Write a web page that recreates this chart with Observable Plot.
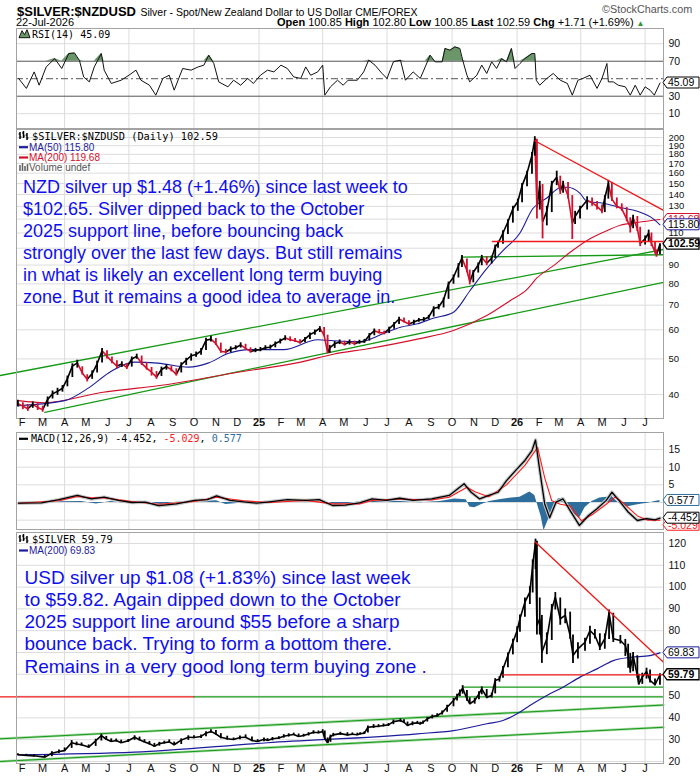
<!DOCTYPE html>
<html><head><meta charset="utf-8">
<script src="https://cdn.jsdelivr.net/npm/d3@7"></script>
<script src="https://cdn.jsdelivr.net/npm/@observablehq/plot@0.6"></script>
<style>
body{margin:0;background:#fff;}
#wrap{position:relative;width:700px;height:780px;overflow:hidden;font-family:"Liberation Sans",Arial,sans-serif;color:#000;}
.abs{position:absolute;white-space:nowrap;}
.panel{position:absolute;left:0;}
.panel svg{overflow:visible;}
</style></head><body>
<div id="wrap">
  <div class="abs" style="left:17px;top:3px;line-height:15px;"><b style="font-size:13px">$SILVER:$NZDUSD</b> <span style="font-size:10.5px">Silver - Spot/New Zealand Dollar to US Dollar CME/FOREX</span></div>
  <div class="abs" style="left:602px;top:2px;line-height:15px;font-size:10.8px;color:#555">©StockCharts.com</div>
  <div class="abs" style="left:16px;top:15px;line-height:14px;font-size:11px">22-Jul-2026</div>
  <div class="abs" style="left:277px;top:15px;line-height:14px;font-size:11px"><b>Open</b> 100.85 <b>High</b> 102.80 <b>Low</b> 100.85 <b>Last</b> 102.59 <b>Chg</b> +1.71 (+1.69%) <span style="color:#2a9a2a;font-size:8px">▲</span></div>
  <div id="rsi" class="panel" style="top:27px"></div>
  <div id="main" class="panel" style="top:128px"></div>
  <div id="macd" class="panel" style="top:431px"></div>
  <div id="usd" class="panel" style="top:530px"></div>
</div>
<script>
// ---------------- DATA ----------------
const nzdDates = [
"2024-01-26","2024-02-02","2024-02-09","2024-02-16","2024-02-23","2024-03-01","2024-03-08","2024-03-15","2024-03-22","2024-03-29",
"2024-04-05","2024-04-12","2024-04-19","2024-04-26","2024-05-03","2024-05-10","2024-05-17","2024-05-24","2024-05-31","2024-06-07",
"2024-06-14","2024-06-21","2024-06-28","2024-07-05","2024-07-12","2024-07-19","2024-07-26","2024-08-02","2024-08-09","2024-08-16",
"2024-08-23","2024-08-30","2024-09-06","2024-09-13","2024-09-20","2024-09-27","2024-10-04","2024-10-11","2024-10-18","2024-10-25",
"2024-11-01","2024-11-08","2024-11-15","2024-11-22","2024-11-29","2024-12-06","2024-12-13","2024-12-20","2024-12-27",
"2025-01-03","2025-01-10","2025-01-17","2025-01-24","2025-01-31","2025-02-07","2025-02-14","2025-02-21","2025-02-28","2025-03-07",
"2025-03-14","2025-03-21","2025-03-28","2025-04-03","2025-04-08","2025-04-11","2025-04-18","2025-04-25","2025-05-02","2025-05-09",
"2025-05-16","2025-05-23","2025-05-30","2025-06-06","2025-06-13","2025-06-20","2025-06-27","2025-07-04","2025-07-11","2025-07-18",
"2025-07-25","2025-08-01","2025-08-08","2025-08-15","2025-08-22","2025-08-29","2025-09-05","2025-09-12","2025-09-19","2025-09-26",
"2025-10-03","2025-10-10","2025-10-15","2025-10-22","2025-10-26","2025-10-31","2025-11-07","2025-11-12","2025-11-19","2025-11-26",
"2025-12-01","2025-12-05","2025-12-12","2025-12-19","2025-12-26","2026-01-02","2026-01-08","2026-01-15","2026-01-22","2026-01-26",
"2026-01-29","2026-02-02","2026-02-06","2026-02-12","2026-02-19","2026-02-26","2026-03-03","2026-03-07","2026-03-14","2026-03-20",
"2026-03-24","2026-03-31","2026-04-10","2026-04-17","2026-04-24","2026-05-01","2026-05-05","2026-05-10","2026-05-15","2026-05-22",
"2026-05-29","2026-06-05","2026-06-10","2026-06-14","2026-06-20","2026-06-24","2026-07-01","2026-07-06","2026-07-10","2026-07-15",
"2026-07-17","2026-07-22"];
const nzdClose = [
37.8,37.2,36.6,37.6,36.9,36.4,38.8,40.2,40.8,41.6,
44.2,47.8,48.8,45.8,44.0,45.6,48.5,52.6,50.8,49.2,
47.8,48.4,47.4,50.0,50.8,48.6,47.2,46.0,44.6,46.8,
47.6,46.8,45.4,48.2,49.6,51.0,51.4,52.6,56.2,56.6,
55.0,52.4,52.2,53.2,53.6,54.6,53.4,52.4,52.8,
53.0,53.6,53.8,55.0,56.0,57.0,56.4,56.0,55.4,56.6,
58.2,59.2,60.6,58.0,52.0,53.6,55.0,55.6,54.8,55.6,
55.0,55.6,55.8,58.0,59.6,59.0,58.8,60.4,62.2,64.2,
63.2,62.2,63.0,63.8,64.0,65.0,68.6,69.2,72.4,80.0,
83.4,89.6,94.0,87.0,81.0,86.0,90.0,94.4,91.0,94.0,
101.0,103.0,110.0,118.0,128.0,134.0,148.0,160.0,179.0,198.0,
129.0,148.0,118.0,126.0,150.0,156.0,143.0,150.0,139.0,117.0,
122.0,128.0,135.0,133.0,130.0,126.0,137.0,150.0,136.0,130.0,
128.0,120.0,114.0,121.0,113.0,103.0,106.0,110.0,103.0,97.6,
96.0,102.59];
const nzdHigh = [
38.6,38.0,37.6,38.2,37.8,37.2,39.4,40.9,41.6,42.3,
44.9,48.5,49.6,47.6,45.3,46.4,49.3,53.4,52.6,50.6,
49.4,49.1,48.6,50.6,51.5,50.9,48.9,47.4,46.2,47.5,
48.2,47.8,47.0,48.8,50.2,51.6,52.2,53.4,56.9,57.6,
56.8,55.2,53.1,53.9,54.3,55.3,54.8,53.6,53.4,
53.7,54.3,54.5,55.6,56.6,57.8,57.4,56.8,56.4,57.2,
58.8,59.9,61.2,60.9,58.0,54.4,55.7,56.3,55.9,56.3,
55.9,56.2,56.5,58.6,60.3,60.1,59.5,61.0,62.8,64.9,
64.6,63.5,63.7,64.4,64.8,65.7,69.3,70.3,73.2,80.9,
84.6,90.8,95.5,93.5,87.2,87.0,91.2,95.6,94.8,95.2,
102,104.5,111.5,119.5,130,136,150,162,182,201,
198,152,149,130,152,162,157,152,151,139,
126,130,138,137,134,131,139,153,151,137,
132,129,121,123,122,114,108,112,110,104,
99,102.8];
const nzdLow = [
37.0,36.4,36.0,36.7,36.2,35.8,37.0,38.9,39.8,40.6,
42.0,44.5,47.2,45.2,43.3,44.0,45.8,48.7,50.0,48.5,
47.0,47.4,46.8,47.5,49.9,48.0,46.6,44.9,44.0,44.8,
46.6,46.1,44.9,45.8,48.0,49.3,50.5,51.2,52.7,55.6,
54.4,51.8,51.5,52.0,52.9,53.5,52.8,51.8,52.0,
52.3,52.7,53.1,53.6,54.9,56.0,55.7,55.4,54.8,55.3,
56.5,58.0,59.0,57.4,51.6,51.8,53.4,54.7,54.2,54.5,
54.3,54.8,55.1,55.9,57.8,58.4,58.1,58.6,60.2,62.0,
62.6,61.5,61.9,62.9,63.2,63.9,65.0,68.0,68.8,72.6,
79.8,83.0,88.6,85.8,79.5,80.5,85.6,89.6,89.6,90.6,
93.8,100,102.5,109,117,126,133,147,159,178,
120,127,106,115,125,148,140,141,136,105.6,
116,120,127,130,127,124,125,136,134,128,
126,118,110,113,111,101,102,104,101,96.5,
94.5,96.0];

const ma50Dates = ["2024-01-27","2024-04-01","2024-05-05","2024-06-06","2024-07-09","2024-08-11","2024-09-23","2024-10-21","2024-11-18","2024-12-19",
"2025-02-05","2025-03-25","2025-04-16","2025-05-24","2025-06-26","2025-07-20","2025-08-13","2025-09-04","2025-10-03","2025-10-26",
"2025-11-19","2025-12-12","2026-01-05","2026-01-23","2026-02-12","2026-03-03","2026-03-13","2026-03-31","2026-04-10","2026-05-03",
"2026-05-27","2026-06-20","2026-07-13","2026-07-22"];
const ma50Values = [37.3,38.5,41.7,46.3,49.0,48.7,47.5,48.7,51.7,53.0,
53.0,56.4,56.0,55.7,58.6,61.0,62.3,64.5,67.0,76.5,
88.0,98.5,110.0,128.0,137.0,146.0,146.5,141.0,134.0,132.5,
129.0,126.0,120.0,115.80];

const ma200Dates = ["2024-01-27","2024-03-04","2024-05-23","2024-08-25","2024-11-26","2025-03-01","2025-04-16","2025-06-04","2025-08-13","2025-10-03",
"2025-11-19","2025-12-22","2026-01-15","2026-01-29","2026-02-21","2026-03-17","2026-04-10","2026-05-03","2026-05-27","2026-06-20","2026-07-22"];
const ma200Values = [38.5,38.0,40.5,42.6,45.8,49.0,51.5,53.3,56.6,59.7,
65.6,72.0,77.3,83.0,89.5,97.5,105.0,110.5,115.5,117.5,119.68];

const rsiDates = ["2024-01-27","2024-02-07","2024-02-18","2024-02-25","2024-03-06","2024-03-18","2024-03-28","2024-04-07","2024-04-15","2024-04-22",
"2024-04-28","2024-05-06","2024-05-13","2024-05-23","2024-05-27","2024-06-06","2024-06-20","2024-07-01","2024-07-11","2024-07-18",
"2024-07-30","2024-08-08","2024-08-18","2024-08-27","2024-09-03","2024-09-15","2024-09-27","2024-10-07","2024-10-15","2024-10-22",
"2024-10-29","2024-11-05","2024-11-18","2024-11-26","2024-12-06","2024-12-16","2024-12-24","2025-01-03","2025-01-13","2025-01-22",
"2025-02-01","2025-02-10","2025-02-19","2025-03-01","2025-03-08","2025-03-15","2025-03-25","2025-04-01","2025-04-04","2025-04-12",
"2025-04-22","2025-04-30","2025-05-07","2025-05-20","2025-05-29","2025-06-05","2025-06-14","2025-06-24","2025-07-01","2025-07-10",
"2025-07-20","2025-07-27","2025-08-07","2025-08-17","2025-08-24","2025-08-31","2025-09-07","2025-09-17","2025-09-21","2025-09-28",
"2025-10-05","2025-10-12","2025-10-16","2025-10-22","2025-10-26","2025-11-05","2025-11-12","2025-11-19","2025-11-26","2025-12-03",
"2025-12-10","2025-12-17","2025-12-24","2025-12-29","2026-01-05","2026-01-12","2026-01-22","2026-01-26","2026-01-28","2026-02-02",
"2026-02-12","2026-02-21","2026-03-03","2026-03-13","2026-03-20","2026-03-28","2026-04-04","2026-04-14","2026-04-24","2026-05-01",
"2026-05-08","2026-05-10","2026-05-17","2026-05-24","2026-06-03","2026-06-10","2026-06-17","2026-06-24","2026-07-01","2026-07-08",
"2026-07-14","2026-07-22"];
const rsiValues = [50.3,38.9,57.8,42.6,63.5,73.0,61.7,78.8,79.5,71.0,
52.0,46.4,63.5,78.8,59.8,44.6,48.3,54.0,59.8,48.3,
42.6,31.2,50.3,54.0,36.9,61.7,59.8,63.5,65.5,76.9,
67.4,46.4,40.7,48.3,42.6,50.3,44.6,54.0,59.8,57.8,
65.5,61.7,52.1,50.3,63.5,54.0,57.8,65.5,31.2,40.7,
48.3,42.6,48.3,48.3,57.8,71.2,65.5,56.0,50.3,69.3,
71.2,48.3,57.8,50.3,63.5,76.9,69.3,69.3,84.6,82.6,
86.4,84.6,71.2,54.0,46.4,54.0,65.5,56.0,69.3,61.7,
73.0,69.3,84.6,61.7,67.4,73.0,78.8,78.8,48.3,42.6,
50.3,56.0,48.3,44.6,31.2,48.3,50.3,54.0,38.9,50.3,
67.4,46.4,46.4,42.6,40.7,31.2,42.6,31.2,40.7,36.9,
31.2,45.09];

const macdDates = ["2024-01-27","2024-02-28","2024-03-24","2024-04-19","2024-05-09","2024-05-27","2024-06-16","2024-07-05","2024-07-24","2024-08-12",
"2024-09-06","2024-10-02","2024-10-20","2024-11-02","2024-11-21","2024-12-10","2024-12-29","2025-01-16","2025-02-10","2025-03-08",
"2025-03-27","2025-04-15","2025-05-03","2025-05-23","2025-06-10","2025-06-30","2025-07-19","2025-08-07","2025-09-02","2025-09-27",
"2025-10-18","2025-10-28","2025-11-09","2025-11-22","2025-12-05","2025-12-17","2025-12-30","2026-01-12","2026-01-22","2026-01-27",
"2026-02-02","2026-02-09","2026-02-16","2026-02-25","2026-03-07","2026-03-17","2026-03-30","2026-04-12","2026-04-24","2026-05-07",
"2026-05-15","2026-05-25","2026-06-07","2026-06-20","2026-07-03","2026-07-15","2026-07-22"];
const macdValues = [-0.2,-0.1,0.8,2.0,1.0,1.5,0.6,0.0,0.1,-0.9,
-0.4,0.6,0.8,1.9,0.6,0.2,-0.2,0.2,0.8,0.6,
0.8,-0.85,-0.75,-0.1,1.0,0.6,1.2,0.6,1.0,2.0,
5.3,2.9,1.0,2.0,2.9,6.2,9.1,11.9,14.7,17.7,
9.1,-0.4,-4.3,0.1,1.0,-2.3,-6.5,-3.7,-1.8,0.6,
2.9,0.6,-2.7,-5.1,-4.6,-4.9,-4.452];

const signalDates = ["2024-01-27","2024-03-24","2024-04-19","2024-05-09","2024-05-27","2024-07-05","2024-08-12","2024-10-02","2024-11-02","2024-12-10",
"2025-01-16","2025-03-08","2025-04-15","2025-05-23","2025-06-10","2025-07-19","2025-09-02","2025-09-27","2025-10-22","2025-11-03",
"2025-11-22","2025-12-17","2026-01-12","2026-01-30","2026-02-09","2026-02-19","2026-03-03","2026-03-17","2026-04-02","2026-04-17",
"2026-05-07","2026-05-20","2026-06-01","2026-06-20","2026-07-05","2026-07-22"];
const signalValues = [-0.2,0.5,1.7,1.3,1.3,0.3,-0.5,0.3,1.5,0.5,
0.0,0.6,-0.4,-0.4,0.6,1.0,0.7,1.5,4.3,3.0,
1.6,5.0,10.5,15.6,7.0,0.5,-0.5,-1.0,-5.2,-3.5,
-0.5,1.6,-0.3,-3.8,-5.0,-5.029];

const histDates = ["2024-01-27","2024-03-27","2024-04-25","2024-05-16","2024-06-06","2024-06-28","2024-07-26","2024-08-16","2024-09-06","2024-10-11",
"2024-11-02","2024-11-15","2024-12-06","2025-01-17","2025-03-01","2025-03-29","2025-04-19","2025-05-10","2025-05-31","2025-06-21",
"2025-07-20","2025-08-17","2025-09-14","2025-10-05","2025-10-21","2025-10-26","2025-11-02","2025-11-12","2025-11-23","2025-12-07",
"2025-12-21","2026-01-05","2026-01-19","2026-01-26","2026-02-04","2026-02-08","2026-02-14","2026-02-21","2026-02-28","2026-03-07",
"2026-03-14","2026-03-22","2026-03-30","2026-04-07","2026-04-17","2026-04-28","2026-05-08","2026-05-15","2026-05-21","2026-05-30",
"2026-06-07","2026-06-17","2026-06-27","2026-07-05","2026-07-15","2026-07-22"];
const histValues = [0,0.2,0.3,-0.4,0.3,-0.3,-0.1,-0.6,0.1,0.3,
0.5,-0.6,-0.2,0.2,0,0.3,-0.5,-0.3,0.5,0.3,
0.3,-0.1,0.3,1.0,0.8,-1.3,-1.5,-0.6,0.3,0.8,
1.2,1.5,3.0,2.0,-4.0,-8.0,-5.0,-1.5,1.0,1.3,
-1.2,-3.2,-4.5,-1.5,0.3,1.3,1.5,1.8,0.5,-1.0,
-1.2,-0.8,-0.4,-0.2,0.3,0.577];

const usdDates = [
"2024-01-26","2024-02-07","2024-02-18","2024-03-04","2024-03-14","2024-03-24","2024-04-01","2024-04-11","2024-04-18","2024-04-25",
"2024-05-05","2024-05-15","2024-05-23","2024-05-30","2024-06-06","2024-06-13","2024-06-20","2024-06-30","2024-07-09","2024-07-16",
"2024-07-23","2024-07-30","2024-08-06","2024-08-13","2024-08-20","2024-08-27","2024-09-03","2024-09-13","2024-09-23","2024-10-01",
"2024-10-11","2024-10-18","2024-10-25","2024-11-01","2024-11-08","2024-11-17","2024-11-26","2024-12-05","2024-12-13","2024-12-22",
"2024-12-30","2025-01-08","2025-01-13","2025-01-20","2025-01-29","2025-02-05","2025-02-12","2025-02-19","2025-02-26","2025-03-05",
"2025-03-12","2025-03-19","2025-03-26","2025-04-01","2025-04-04","2025-04-08","2025-04-12","2025-04-16","2025-04-26","2025-05-06",
"2025-05-13","2025-05-20","2025-05-24","2025-05-30","2025-06-04","2025-06-12","2025-06-19","2025-06-26","2025-07-03","2025-07-10",
"2025-07-20","2025-07-25","2025-07-30","2025-08-06","2025-08-13","2025-08-17","2025-08-21","2025-08-27","2025-09-03","2025-09-10",
"2025-09-17","2025-09-24","2025-10-03","2025-10-08","2025-10-12","2025-10-16","2025-10-22","2025-10-26","2025-11-02","2025-11-08",
"2025-11-12","2025-11-19","2025-11-26","2025-12-01","2025-12-07","2025-12-12","2025-12-19","2025-12-26","2026-01-01","2026-01-05",
"2026-01-12","2026-01-19","2026-01-23","2026-01-27","2026-01-29","2026-02-02","2026-02-05","2026-02-12","2026-02-19","2026-02-24",
"2026-03-03","2026-03-10","2026-03-17","2026-03-21","2026-03-28","2026-04-07","2026-04-14","2026-04-21","2026-04-28","2026-05-05",
"2026-05-11","2026-05-17","2026-05-27","2026-06-03","2026-06-07","2026-06-10","2026-06-14","2026-06-20","2026-06-22","2026-06-27",
"2026-07-03","2026-07-08","2026-07-15","2026-07-22"];
const usdClose = [
23.1,22.8,22.6,22.0,23.8,24.6,25.0,28.6,28.0,27.7,
26.6,29.5,31.9,30.2,29.2,29.6,28.6,29.5,31.1,30.0,
28.9,28.2,27.0,28.2,28.6,29.0,27.7,29.8,31.1,31.0,
31.5,33.0,33.8,32.6,31.1,30.4,30.1,31.0,31.1,29.6,
29.2,30.2,29.6,30.4,30.8,31.6,32.0,32.4,31.5,31.9,
32.6,33.4,33.2,33.8,30.5,28.6,31.5,32.2,32.8,32.2,
32.5,32.3,32.7,33.0,35.7,36.0,36.2,36.5,36.8,38.3,
38.8,38.0,36.5,37.5,37.7,37.3,38.0,39.6,40.6,41.1,
42.4,44.9,48.0,49.8,51.8,53.6,48.8,46.5,48.0,51.0,
53.3,49.5,50.3,57.2,57.9,62.5,68.6,74.7,80.0,85.5,
93.1,97.7,110.0,120.6,82.4,85.5,70.0,76.3,90.0,95.4,
85.5,87.0,77.8,68.6,71.7,74.7,80.1,77.8,72.4,76.3,
88.2,76.3,75.5,73.2,68.6,62.5,68.6,59.4,55.6,58.7,
61.3,57.2,55.2,59.79];
const usdHigh = [
23.6,23.3,23.2,22.8,24.5,25.3,26.2,29.6,28.9,28.5,
27.6,30.2,32.5,31.5,30.4,30.3,29.8,30.1,31.8,31.2,
30.0,29.2,28.3,28.8,29.3,29.9,28.9,30.4,31.8,31.8,
32.2,33.6,34.6,34.2,32.8,31.6,30.8,31.7,32.2,31.2,
30.0,30.8,30.5,31.0,31.4,32.3,32.7,33.0,32.6,32.5,
33.2,34.1,34.0,34.6,34.0,30.8,32.1,32.9,33.4,33.2,
33.1,33.0,33.2,33.6,36.3,36.9,36.9,37.2,37.4,39.0,
39.5,39.1,38.1,38.2,38.4,38.0,38.6,40.2,41.3,41.9,
43.2,45.8,49.0,50.8,52.8,54.8,52.6,49.2,49.0,52.0,
54.2,53.0,51.3,58.0,58.9,63.6,69.8,76.1,81.8,87.2,
95.0,100.2,112.5,122,121,95,87,79.0,92,97.5,
95.0,90.0,88.5,78.0,74.5,76.5,82.0,80.6,78.6,78.5,
89.5,88.0,77.8,76.0,73.8,69.5,70.0,68.5,60.0,60.5,
62.8,62.0,57.8,60.2];
const usdLow = [
22.6,22.3,22.0,21.6,22.2,23.7,24.5,26.0,27.2,27.0,
26.0,26.9,29.4,29.8,28.8,28.9,28.2,28.7,29.7,29.4,
28.5,27.5,26.5,27.0,28.0,28.5,27.2,27.8,29.7,30.4,
30.6,31.3,32.9,32.0,30.4,29.8,29.6,30.0,30.5,29.1,
28.8,29.1,29.2,29.5,30.1,30.7,31.2,31.9,31.1,31.2,
31.7,32.5,32.7,32.9,30.0,28.2,28.8,31.3,32.0,31.6,
31.9,31.8,32.1,32.4,33.1,35.2,35.5,35.8,36.1,36.9,
38.0,37.4,36.0,36.4,37.0,36.7,37.1,38.1,39.5,40.3,
41.3,42.6,45.1,47.8,49.8,50.9,47.6,46.0,46.3,48.3,
50.6,48.8,49.1,51.0,56.4,58.2,63.0,68.9,74.5,79.3,
86.2,92.0,97.3,108,78,78,65,69.0,75.5,89.5,
82.5,83.2,76.0,65,67.0,70.6,73.8,76.2,70.9,71.5,
76.0,74.6,73.9,68.2,62.8,60.5,61.2,58.2,55.0,55.4,
57.8,56.0,54.6,55.0];

const usdMaDates = ["2024-01-26","2024-07-09","2025-01-13","2025-08-13","2025-10-03","2025-11-19","2025-12-12","2026-01-01","2026-01-19","2026-02-12",
"2026-03-07","2026-03-31","2026-04-24","2026-05-17","2026-06-10","2026-07-08","2026-07-22"];
const usdMaValues = [23.1,24.3,28.6,32.7,34.2,37.3,38.8,41.9,45.7,50.3,
54.1,58.7,62.5,66.3,67.8,68.6,69.83];

// annotation lines drawn on the original chart: [date, value] end points
const nzdChannelUpper = [["2024-01-01",45.07],["2026-07-27",99.2]];
const nzdChannelLower = [["2024-03-04",35.8],["2026-07-27",80.8]];
const nzdSupport      = [["2025-10-14",94.6],["2026-07-27",96.0]];
const nzdRedLevel     = [["2025-11-27",104.3],["2026-07-27",104.3]];
const nzdRedDown      = [["2026-01-26",196],["2026-07-27",126.7]];
const usdChannelUpper = [["2024-01-01",30.4],["2026-07-27",45.9]];
const usdChannelLower = [["2024-01-01",20.0],["2026-07-27",35.7]];
const usdRed50        = [["2024-01-01",49.6],["2024-10-01",49.6]];
const usdGreen50      = [["2024-10-01",49.6],["2026-07-27",49.6]];
const usdGreen54      = [["2025-10-16",54.1],["2026-07-27",54.1]];
const usdRedLevel     = [["2025-12-12",59.7],["2026-07-27",59.7]];
const usdRedDown      = [["2026-01-27",120.6],["2026-07-27",65.5]];

const monthStarts = ["2024-02-01","2024-03-01","2024-04-01","2024-05-01","2024-06-01","2024-07-01","2024-08-01","2024-09-01","2024-10-01","2024-11-01","2024-12-01",
"2025-01-01","2025-02-01","2025-03-01","2025-04-01","2025-05-01","2025-06-01","2025-07-01","2025-08-01","2025-09-01","2025-10-01","2025-11-01","2025-12-01",
"2026-01-01","2026-02-01","2026-03-01","2026-04-01","2026-05-01","2026-06-01","2026-07-01"];
const monthLabels = ["F","M","A","M","J","J","A","S","O","N","D","25","F","M","A","M","J","J","A","S","O","N","D","26","F","M","A","M","J","J"];
const quarterLines = ["2024-04-01","2024-07-01","2024-10-01","2025-01-01","2025-04-01","2025-07-01","2025-10-01","2026-01-01","2026-04-01","2026-07-01"];

// gridline values, and the tick labels the chart shows (labels under the value boxes are hidden there)
const rsiTicks  = [10,30,70,90];
const mainGrid  = [40,50,60,70,80,90,100,110,120,130,140,150,160,170,180,190,200];
const mainTicks = [40,50,60,70,80,90,110,130,140,150,160,170,180,190,200];
const macdGrid  = [-5,0,5,10,15];
const macdTicks = [5,10,15];
const usdGrid   = [20,30,40,50,60,70,80,90,100,110,120];
const usdTicks  = [20,30,40,50,80,90,100,110,120];

const mainNote = ["NZD silver up $1.48 (+1.46%) since last week to","$102.65. Silver dipped back to the October","2025 support line, before bouncing back","strongly over the last few days. But still remains","in what is likely an excellent long term buying","zone. But it remains a good idea to average in."];
const usdNote = ["USD silver up $1.08 (+1.83%) since last week","to $59.82. Again dipped down to the October","2025 support line around $55 before a sharp","bounce back. Trying to form a bottom there.","Remains in a very good long term buying zone ."];

// ---------------- HELPERS ----------------
const P = s => new Date(s + "T00:00:00Z");
const rec = (ds, vs) => ds.map((d, i) => ({date: P(d), v: vs[i]}));
const bars = (ds, c, hi, lo) => ds.map((d, i) => ({date: P(d), c: c[i], hi: hi[i], lo: lo[i], up: i === 0 || c[i] >= c[i - 1]}));
const segs = (ds, vs) => ds.slice(1).map((d, i) => ({d0: P(ds[i]), v0: vs[i], d1: P(d), v1: vs[i + 1]}));
const pts = arr => arr.map(([d, v]) => ({date: P(d), v}));
const months = monthStarts.map((d, i) => ({date: P(d), label: monthLabels[i]}));
const quarters = quarterLines.map(P);

const X_DOMAIN = [P("2024-01-24"), P("2026-07-27")];
const W = 700, ML = 16, MR = 37;
const FRAME = "#a3a3a3", GRID = "#dcdcdc";
const RED = "#d3102c", NAVY = "#1c1c9c", LINE_RED = "#f01818", GREEN = "#169a16", BLUE_TXT = "#0f0fee";
const SANS = "Liberation Sans, Arial, sans-serif", MONO = "DejaVu Sans Mono, monospace";
const baseStyle = {fontFamily: SANS, fontSize: "10.5px", background: "transparent", overflow: "visible"};

function valueBoxes(items) {
  return (index, scales, values, dims) => {
    const g = d3.create("svg:g");
    const x0 = dims.width - dims.marginRight;
    for (const it of items) {
      const y = scales.y(it.v) + (it.shift || 0);
      g.append("path")
        .attr("d", `M${x0},${y}L${x0 + 4},${y - 5.5}L${x0 + 36},${y - 5.5}L${x0 + 36},${y + 5.5}L${x0 + 4},${y + 5.5}Z`)
        .attr("fill", "white").attr("stroke", it.color).attr("stroke-width", it.bold ? 1.3 : 1);
      g.append("text").attr("x", x0 + 5).attr("y", y).attr("dy", "0.36em").attr("text-anchor", "start")
        .attr("font-family", SANS).attr("font-size", 10.5)
        .attr("font-weight", it.bold ? "bold" : "normal")
        .attr("fill", it.textColor || it.color).text(it.text);
    }
    return g.node();
  };
}

function legend(lines) {
  return (index, scales, values, dims) => {
    const g = d3.create("svg:g");
    const x0 = dims.marginLeft, y0 = dims.marginTop;
    for (const ln of lines) {
      const by = y0 + ln.y;
      if (ln.icon === "line") {
        g.append("line").attr("x1", x0 + 3).attr("x2", x0 + 12).attr("y1", by - 3.5).attr("y2", by - 3.5)
          .attr("stroke", ln.iconColor).attr("stroke-width", 2.2);
      } else if (ln.icon === "bars") {
        [[4, -8, -1], [7.5, -9, -2], [11, -7, 0]].forEach(([dx, a, b]) => {
          g.append("line").attr("x1", x0 + dx).attr("x2", x0 + dx).attr("y1", by + a).attr("y2", by + b)
            .attr("stroke", "#000").attr("stroke-width", 1.5);
          g.append("line").attr("x1", x0 + dx - 1.5).attr("x2", x0 + dx).attr("y1", by + a + 2).attr("y2", by + a + 2).attr("stroke", "#000");
          g.append("line").attr("x1", x0 + dx).attr("x2", x0 + dx + 1.5).attr("y1", by + b - 2).attr("y2", by + b - 2).attr("stroke", "#000");
        });
      } else if (ln.icon === "vol") {
        [[4, -6], [6.5, -8], [9, -5], [11.5, -7]].forEach(([dx, a]) => {
          g.append("line").attr("x1", x0 + dx).attr("x2", x0 + dx).attr("y1", by + a).attr("y2", by)
            .attr("stroke", "#666").attr("stroke-width", 1.6);
        });
      } else if (ln.icon === "rsi") {
        g.append("path").attr("d", `M${x0 + 3},${by}L${x0 + 6},${by - 7}L${x0 + 8.5},${by - 3}L${x0 + 11},${by - 8}L${x0 + 14},${by}Z`)
          .attr("fill", "#6a966a").attr("stroke", "#000").attr("stroke-width", 0.9);
      }
      const t = g.append("text").attr("x", x0 + ln.x).attr("y", by).attr("text-anchor", "start")
        .attr("font-family", ln.font).attr("font-size", ln.size);
      for (const p of ln.parts) t.append("tspan").attr("fill", p.color).text(p.text);
    }
    return g.node();
  };
}

function lineMark(arr, stroke, width = 1.3) {
  return Plot.line(pts(arr), {x: "date", y: "v", stroke, strokeWidth: width});
}
function yLabels(ticks, size = 10.5) {
  return Plot.text(ticks, {y: d => d, text: d => String(d), frameAnchor: "right", textAnchor: "start", dx: 5, fontSize: size, fill: "#111"});
}
function xLabels(dy) {
  return [
    Plot.text(months.filter(d => d.label.length === 1), {x: "date", text: "label", frameAnchor: "bottom", dy, fontSize: 11, fill: "#111"}),
    Plot.text(months.filter(d => d.label.length > 1), {x: "date", text: "label", frameAnchor: "bottom", dy, fontSize: 11, fontWeight: "bold", fill: "#111"})
  ];
}
const xScale = () => ({type: "utc", domain: X_DOMAIN, axis: null});

// ---------------- RSI PANEL ----------------
const rsi = rec(rsiDates, rsiValues);
document.getElementById("rsi").append(Plot.plot({
  width: W, height: 101, marginLeft: ML, marginRight: MR, marginTop: 1, marginBottom: 0,
  x: xScale(), y: {domain: [-6.9, 107.4], axis: null}, style: baseStyle,
  marks: [
    Plot.ruleY([10, 90], {stroke: GRID}),
    Plot.ruleX(quarters, {stroke: GRID}),
    Plot.areaY(rsi, {x: "date", y1: 70, y2: d => Math.max(d.v, 70), fill: "#6a966a"}),
    Plot.ruleY([70, 30], {stroke: "#555"}),
    Plot.ruleY([50], {stroke: "#555", strokeDasharray: "7,3,2,3"}),
    Plot.line(rsi, {x: "date", y: "v", stroke: "#111", strokeWidth: 1}),
    Plot.frame({stroke: FRAME}),
    yLabels(rsiTicks),
    valueBoxes([{v: 45.09, text: "45.09", color: "#000"}]),
    legend([{y: 9.7, x: 16, icon: "rsi", font: MONO, size: 10, parts: [{text: "RSI(14) 45.09", color: "#000"}]}])
  ]
}));

// ---------------- MAIN NZD PANEL ----------------
const nzdBars = bars(nzdDates, nzdClose, nzdHigh, nzdLow);
const nzdSegs = segs(nzdDates, nzdClose);
document.getElementById("main").append(Plot.plot({
  width: W, height: 305, marginLeft: ML, marginRight: MR, marginTop: 1, marginBottom: 15,
  x: xScale(), y: {type: "log", domain: [34.43, 210.3], axis: null},
  color: {type: "identity"}, style: baseStyle,
  marks: [
    Plot.ruleY(mainGrid, {stroke: GRID}),
    Plot.ruleX(quarters, {stroke: GRID}),
    lineMark(nzdChannelUpper, GREEN, 1.3),
    lineMark(nzdChannelLower, GREEN, 1.3),
    lineMark(nzdSupport, GREEN, 1.3),
    Plot.line(rec(ma200Dates, ma200Values), {x: "date", y: "v", stroke: RED, strokeWidth: 1.1, curve: "monotone-x"}),
    Plot.line(rec(ma50Dates, ma50Values), {x: "date", y: "v", stroke: NAVY, strokeWidth: 1.1, curve: "monotone-x"}),
    Plot.link(nzdSegs, {x1: "d0", y1: "v0", x2: "d1", y2: "v1", stroke: d => d.v1 >= d.v0 ? "#000" : RED, strokeWidth: 1.6}),
    Plot.ruleX(nzdBars, {x: "date", y1: "lo", y2: "hi", stroke: d => d.up ? "#000" : RED, strokeWidth: 1.8}),
    lineMark(nzdRedLevel, LINE_RED, 1.3),
    lineMark(nzdRedDown, LINE_RED, 1.3),
    Plot.text([mainNote.join("\n")], {text: d => d, frameAnchor: "top-left", textAnchor: "start", lineAnchor: "top", dx: 6.5, dy: 48.2, fontSize: 18, lineHeight: 1.222, fill: BLUE_TXT, fontFamily: SANS}),
    Plot.frame({stroke: FRAME}),
    yLabels(mainTicks, 9.5),
    valueBoxes([
      {v: 119.68, text: "119.68", color: RED},
      {v: 115.80, text: "115.80", color: NAVY, textColor: "#000"},
      {v: 102.59, text: "102.59", color: "#000", bold: true}
    ]),
    legend([
      {y: 11, x: 16, icon: "bars", font: MONO, size: 10.3, parts: [{text: "$SILVER:$NZDUSD (Daily) 102.59", color: "#000"}]},
      {y: 21.7, x: 13, icon: "line", iconColor: NAVY, font: SANS, size: 10, parts: [{text: "MA(50) 115.80", color: NAVY}]},
      {y: 32, x: 13, icon: "line", iconColor: RED, font: SANS, size: 10, parts: [{text: "MA(200) 119.68", color: RED}]},
      {y: 42, x: 13, icon: "vol", font: SANS, size: 10, parts: [{text: "Volume undef", color: "#555"}]}
    ]),
    ...xLabels(7.5)
  ]
}));

// ---------------- MACD PANEL ----------------
const macd = rec(macdDates, macdValues);
document.getElementById("macd").append(Plot.plot({
  width: W, height: 100, marginLeft: ML, marginRight: MR, marginTop: 1, marginBottom: 2,
  x: xScale(), y: {domain: [-7.65, 19.83], axis: null}, style: baseStyle,
  marks: [
    Plot.ruleY(macdGrid, {stroke: GRID}),
    Plot.ruleX(quarters, {stroke: GRID}),
    Plot.areaY(rec(histDates, histValues), {x: "date", y: "v", fill: "#2e6e9c"}),
    Plot.line(macd, {x: "date", y: "v", stroke: "#c4c4c4", strokeWidth: 3.5}),
    Plot.line(rec(signalDates, signalValues), {x: "date", y: "v", stroke: "#ff1a1a", strokeWidth: 1.1}),
    Plot.line(macd, {x: "date", y: "v", stroke: "#000", strokeWidth: 1.3}),
    Plot.frame({stroke: FRAME}),
    yLabels(macdTicks),
    valueBoxes([
      {v: -5.029, text: "-5.029", color: "#ff1a1a", shift: 5},
      {v: 0.577, text: "0.577", color: "#2e6e9c", textColor: "#000"},
      {v: -4.452, text: "-4.452", color: "#000"}
    ]),
    legend([{y: 10.3, x: 15, icon: "line", iconColor: "#000", font: MONO, size: 10,
      parts: [{text: "MACD(12,26,9) -4.452", color: "#000"}, {text: ", ", color: "#000"}, {text: "-5.029", color: "#ff1a1a"}, {text: ", ", color: "#000"}, {text: "0.577", color: "#2e6e9c"}]}])
  ]
}));

// ---------------- USD PANEL ----------------
const usdBars = bars(usdDates, usdClose, usdHigh, usdLow);
const usdSegs = segs(usdDates, usdClose);
document.getElementById("usd").append(Plot.plot({
  width: W, height: 250, marginLeft: ML, marginRight: MR, marginTop: 2, marginBottom: 17,
  x: xScale(), y: {domain: [19.08, 125.05], axis: null}, style: baseStyle,
  marks: [
    Plot.ruleY(usdGrid, {stroke: GRID}),
    Plot.ruleX(quarters, {stroke: GRID}),
    lineMark(usdRed50, LINE_RED, 1.3),
    lineMark(usdGreen50, GREEN, 1.3),
    lineMark(usdGreen54, GREEN, 1.3),
    Plot.line(pts(usdChannelUpper), {x: "date", y: "v", stroke: "#a6d9a6", strokeWidth: 2.6}),
    Plot.line(pts(usdChannelLower), {x: "date", y: "v", stroke: "#a6d9a6", strokeWidth: 2.6}),
    lineMark(usdChannelUpper, GREEN, 1),
    lineMark(usdChannelLower, GREEN, 1),
    Plot.line(rec(usdMaDates, usdMaValues), {x: "date", y: "v", stroke: NAVY, strokeWidth: 1.2, curve: "monotone-x"}),
    Plot.link(usdSegs, {x1: "d0", y1: "v0", x2: "d1", y2: "v1", stroke: "#000", strokeWidth: 1.6}),
    Plot.ruleX(usdBars, {x: "date", y1: "lo", y2: "hi", stroke: "#000", strokeWidth: 1.8}),
    lineMark(usdRedLevel, LINE_RED, 1.3),
    lineMark(usdRedDown, LINE_RED, 1.3),
    Plot.text([usdNote.join("\n")], {text: d => d, frameAnchor: "top-left", textAnchor: "start", lineAnchor: "top", dx: 8, dy: 35.5, fontSize: 19, lineHeight: 1.17, fill: BLUE_TXT, fontFamily: SANS}),
    Plot.frame({stroke: FRAME}),
    yLabels(usdTicks),
    valueBoxes([
      {v: 69.83, text: "69.83", color: NAVY, textColor: "#000"},
      {v: 59.79, text: "59.79", color: "#000", bold: true}
    ]),
    legend([
      {y: 11, x: 16, icon: "bars", font: MONO, size: 10.3, parts: [{text: "$SILVER 59.79", color: "#000"}]},
      {y: 22, x: 13, icon: "line", iconColor: NAVY, font: SANS, size: 10, parts: [{text: "MA(200) 69.83", color: NAVY}]}
    ]),
    ...xLabels(8)
  ]
}));
</script>
</body></html>
